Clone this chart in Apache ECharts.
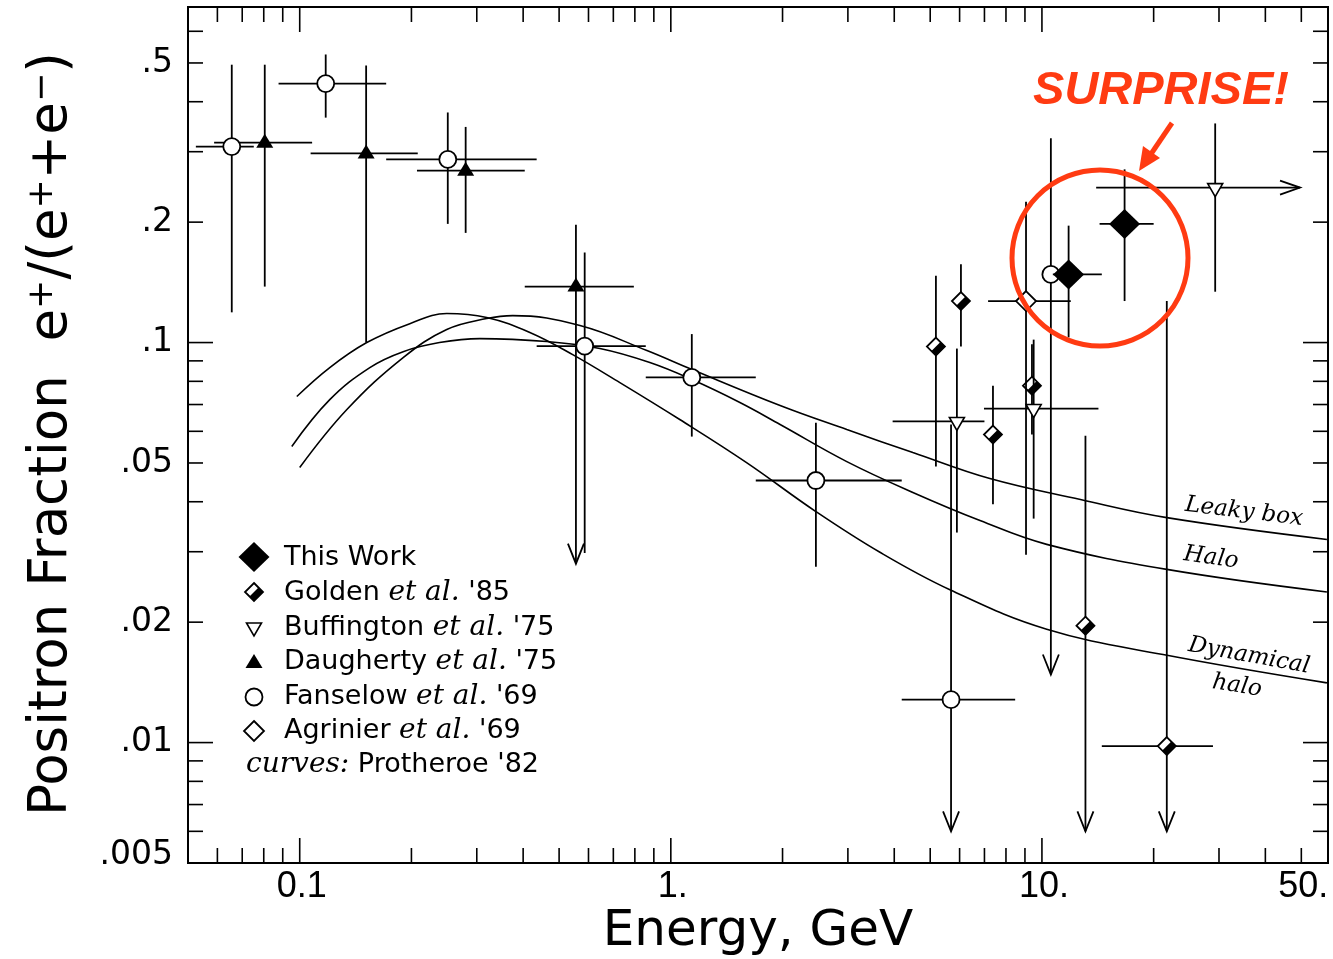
<!DOCTYPE html>
<html><head><meta charset="utf-8">
<script src="https://cdn.jsdelivr.net/npm/echarts@6/dist/echarts.min.js"></script>
<style>html,body{margin:0;padding:0;background:#fff}#c{width:1333px;height:959px}</style>
</head><body><div id="c"></div>
<script>
// ---------------- data ----------------
// rows: [E (GeV), fraction, E low, E high, fraction low, fraction high, limit]
// limit: 0 = none, 1 = downward arrow at fraction low, 2 = rightward arrow at E high
const thisWork = [
  [11.8, 0.148, 10.7, 14.5, 0.103, 0.196, 0],
  [16.7, 0.198, 14.3, 20.0, 0.127, 0.271, 0]
];
const golden85 = [
  [5.18, 0.0977, null, null, 0.049, 0.147, 0],
  [6.05, 0.127, null, null, 0.0977, 0.157, 0],
  [7.38, 0.0589, null, null, 0.0394, 0.078, 0],
  [9.4, 0.078, null, null, 0.0589, 0.099, 0],
  [13.1, 0.0196, null, null, 0.006, 0.0585, 1],
  [21.7, 0.0098, 14.5, 28.9, 0.006, 0.127, 1]
];
const buffington75 = [
  [5.9, 0.0635, 3.96, 7.0, 0.0335, 0.0966, 0],
  [9.5, 0.0684, 6.98, 14.2, 0.0363, 0.1017, 0],
  [29.3, 0.244, 14.0, 49.6, 0.134, 0.353, 2]
];
const daugherty75 = [
  [0.0805, 0.316, 0.0588, 0.108, 0.138, 0.495, 0],
  [0.151, 0.297, 0.107, 0.208, 0.100, 0.493, 0],
  [0.280, 0.269, 0.207, 0.404, 0.188, 0.346, 0],
  [0.555, 0.138, 0.404, 0.795, 0.028, 0.197, 1]
];
const fanselow69 = [
  [0.0656, 0.309, 0.0525, 0.0752, 0.119, 0.495, 0],
  [0.1175, 0.444, 0.0877, 0.171, 0.365, 0.525, 0],
  [0.2506, 0.287, 0.171, 0.435, 0.198, 0.376, 0],
  [0.586, 0.098, 0.435, 0.856, 0.0298, 0.168, 0],
  [1.139, 0.0818, 0.856, 1.694, 0.0582, 0.105, 0],
  [2.46, 0.0452, 1.694, 4.19, 0.0275, 0.063, 0],
  [5.69, 0.0128, 4.19, 8.47, 0.006, 0.0624, 1],
  [10.57, 0.148, null, null, 0.0148, 0.324, 1]
];
const agrinier69 = [
  [9.06, 0.127, 7.16, 11.96, 0.0295, 0.225, 0]
];
// model curves (Protheroe '82)
const leakyBoxE = [0.1, 0.134, 0.19, 0.249, 0.319, 0.375, 0.569, 0.862, 1.14, 1.97, 2.98, 4.49, 7.24, 12.7, 21.7, 58.6];
const leakyBoxF = [0.0487, 0.068, 0.0917, 0.1078, 0.1148, 0.1168, 0.1103, 0.0955, 0.0856, 0.0696, 0.0606, 0.0531, 0.0457, 0.0405, 0.0365, 0.0322];
const haloE = [0.0952, 0.1205, 0.1545, 0.19, 0.238, 0.306, 0.463, 0.644, 0.878, 1.14, 1.535, 1.97, 2.98, 4.49, 6.81, 10.3, 21.7, 58.6];
const haloF = [0.055, 0.072, 0.0866, 0.0949, 0.1, 0.1023, 0.1006, 0.0966, 0.0891, 0.0808, 0.0708, 0.0624, 0.0504, 0.0422, 0.0359, 0.0313, 0.0271, 0.0238];
const dynHaloE = [0.0982, 0.1205, 0.1516, 0.198, 0.249, 0.319, 0.417, 0.544, 0.729, 1.057, 1.60, 2.46, 3.66, 5.65, 10.3, 21.2, 58.6];
const dynHaloF = [0.0733, 0.0866, 0.1, 0.1115, 0.1182, 0.1155, 0.106, 0.0933, 0.0794, 0.0642, 0.0501, 0.0378, 0.0299, 0.0241, 0.0192, 0.0166, 0.0141];
// axes
const xMin = 0.05, xMax = 59, yMin = 0.005, yMax = 0.69;
const xMajorTicks = [0.1, 1, 10];
const xMinorTicks = [0.06, 0.07, 0.08, 0.09, 0.2, 0.3, 0.4, 0.5, 0.6, 0.7, 0.8, 0.9, 2, 3, 4, 5, 6, 7, 8, 9, 20, 30, 40, 50];
const yMajorTicks = [0.01, 0.1];
const yMinorTicks = [0.006, 0.007, 0.008, 0.009, 0.02, 0.03, 0.04, 0.05, 0.06, 0.07, 0.08, 0.09, 0.2, 0.3, 0.4, 0.5, 0.6];
const xTickVals = [0.1, 1, 10, 50];
const xTickLabels = ['0.1', '1.', '10.', '50.'];
const yTickVals = [0.5, 0.2, 0.1, 0.05, 0.02, 0.01, 0.005];
const yTickLabels = ['.5', '.2', '.1', '.05', '.02', '.01', '.005'];

// ---------------- drawing helpers ----------------
const K = '#000';
const RED = '#ff3b12';
function ln(x1, y1, x2, y2, w) { return {type: 'line', shape: {x1, y1, x2, y2}, style: {stroke: K, lineWidth: w || 1.8}}; }
function poly(points, fill, stroke, w) { return {type: 'polygon', shape: {points}, style: {fill: fill, stroke: stroke || null, lineWidth: w || 0}}; }
function diamondFilled(cx, cy) { return [poly([[cx, cy - 15], [cx + 15.5, cy], [cx, cy + 15], [cx - 15.5, cy]], K)]; }
function diamondHalf(cx, cy) {
  const s = 9;
  return [poly([[cx, cy - s], [cx + s, cy], [cx, cy + s], [cx - s, cy]], '#fff', K, 1.8),
          poly([[cx + s / 2, cy - s / 2], [cx + s, cy], [cx, cy + s], [cx - s / 2, cy + s / 2]], K)];
}
function diamondOpen(cx, cy) { const s = 10; return [poly([[cx, cy - s], [cx + s, cy], [cx, cy + s], [cx - s, cy]], '#fff', K, 1.8)]; }
function triDownOpen(cx, cy) { return [poly([[cx - 7.5, cy - 4], [cx + 7.5, cy - 4], [cx, cy + 9]], '#fff', K, 1.6)]; }
function triUpFilled(cx, cy) { return [poly([[cx, cy - 9], [cx + 8.5, cy + 5], [cx - 8.5, cy + 5]], K)]; }
function circOpen(cx, cy) { return [{type: 'circle', shape: {cx, cy, r: 8.5}, style: {fill: '#fff', stroke: K, lineWidth: 1.8}}]; }

function errSeries(name, rows, marker, z) {
  return {
    type: 'custom', name: name, coordinateSystem: 'cartesian2d', z: z,
    data: rows.map(r => [r[0], r[1]]),
    encode: {x: 0, y: 1},
    renderItem: function (params, api) {
      const r = rows[params.dataIndex];
      const c = api.coord([r[0], r[1]]);
      const kids = [];
      if (r[2] != null) {
        const a = api.coord([r[2], r[1]]), b = api.coord([r[3], r[1]]);
        kids.push(ln(a[0], c[1], b[0], c[1]));
        if (r[6] === 2) kids.push({type: 'polyline', shape: {points: [[b[0] - 20, c[1] - 7], [b[0], c[1]], [b[0] - 20, c[1] + 7]]}, style: {stroke: K, fill: null, lineWidth: 1.8}});
      }
      if (r[4] != null) {
        const a = api.coord([r[0], r[4]]), b = api.coord([r[0], r[5]]);
        kids.push(ln(c[0], a[1], c[0], b[1]));
        if (r[6] === 1) kids.push({type: 'polyline', shape: {points: [[c[0] - 8, a[1] - 20], [c[0], a[1]], [c[0] + 8, a[1] - 20]]}, style: {stroke: K, fill: null, lineWidth: 1.8}});
      }
      marker(c[0], c[1]).forEach(m => kids.push(m));
      return {type: 'group', children: kids};
    }
  };
}

function curve(name, xs, ys) {
  return {
    type: 'line', name: name, data: xs.map((x, i) => [x, ys[i]]), smooth: 0.4,
    showSymbol: false, symbol: 'none', z: 2, silent: true,
    lineStyle: {color: K, width: 1.6}
  };
}

const frameSeries = {
  type: 'custom', name: 'frame', coordinateSystem: 'cartesian2d', z: 1, silent: true,
  data: [[1, 0.1]],
  renderItem: function (params, api) {
    const cs = params.coordSys;
    const top = cs.y, bot = cs.y + cs.height, lft = cs.x, rgt = cs.x + cs.width;
    const kids = [];
    const xt = (v, L) => { const p = api.coord([v, yMin]); kids.push(ln(p[0], bot, p[0], bot - L, 1.6), ln(p[0], top, p[0], top + L, 1.6)); };
    const yt = (v, L) => { const p = api.coord([xMin, v]); kids.push(ln(lft, p[1], lft + L, p[1], 1.6), ln(rgt, p[1], rgt - L, p[1], 1.6)); };
    xMinorTicks.forEach(v => xt(v, 15)); xMajorTicks.forEach(v => xt(v, 25));
    yMinorTicks.forEach(v => yt(v, 15)); yMajorTicks.forEach(v => yt(v, 25));
    xTickVals.forEach((v, i) => {
      const p = api.coord([v, yMin]);
      kids.push({type: 'text', style: {text: xTickLabels[i], x: p[0] + 2, y: bot + 24, align: 'center', verticalAlign: 'middle', fontSize: 36, fontFamily: 'Liberation Sans', fill: K}});
    });
    yTickVals.forEach((v, i) => {
      const p = api.coord([xMin, v]);
      const dy = (v === yMin) ? -8 : 0;
      kids.push({type: 'text', style: {text: yTickLabels[i], x: lft - 15, y: p[1] + dy, align: 'right', verticalAlign: 'middle', fontSize: 33, fontFamily: 'DejaVu Sans', fill: K}});
    });
    return {type: 'group', children: kids};
  }
};

// ---------------- legend & annotations (graphic) ----------------
const legendFont = {n: {fontSize: 27, fontFamily: 'DejaVu Sans', fill: K}, i: {fontSize: 28, fontFamily: 'DejaVu Serif', fontStyle: 'italic', fill: K}};
function legText(y, txt, x) { return {type: 'text', x: x || 284, y: y, style: {text: txt, rich: legendFont, align: 'left', verticalAlign: 'middle'}}; }
function shapeGroup(kids) { return {type: 'group', children: kids}; }
const LX = 254;
const curveLabelStyle = (t) => ({text: t, fontSize: 23, fontFamily: 'DejaVu Serif', fontStyle: 'italic', fill: K, align: 'center', verticalAlign: 'middle'});
const graphics = [
  // legend
  shapeGroup(diamondFilled(LX, 557)),
  legText(558, '{n|This Work}'),
  shapeGroup(diamondHalf(LX, 592)),
  legText(593, "{n|Golden }{i|et al.}{n| '85}"),
  shapeGroup(triDownOpen(LX, 627)),
  legText(628, "{n|Buffington }{i|et al.}{n| '75}"),
  shapeGroup(triUpFilled(LX, 663)),
  legText(662, "{n|Daugherty }{i|et al.}{n| '75}"),
  shapeGroup(circOpen(LX, 697)),
  legText(697, "{n|Fanselow }{i|et al.}{n| '69}"),
  shapeGroup(diamondOpen(LX, 731)),
  legText(731, "{n|Agrinier }{i|et al.}{n| '69}"),
  legText(765, "{i|curves:}{n| Protheroe '82}", 246),
  // curve labels
  {type: 'text', x: 1244, y: 512, rotation: -0.12, style: curveLabelStyle('Leaky box')},
  {type: 'text', x: 1211, y: 558, rotation: -0.14, style: curveLabelStyle('Halo')},
  {type: 'text', x: 1249, y: 656, rotation: -0.18, style: curveLabelStyle('Dynamical')},
  {type: 'text', x: 1237, y: 686, rotation: -0.16, style: curveLabelStyle('halo')},
  // axis titles
  {type: 'text', x: 52, y: 434, rotation: Math.PI / 2, style: {
    text: '{n|Positron Fraction  e}{s|+}{n|/(e}{s|+}{n|+e}{s|−}{n|)}',
    rich: {n: {fontSize: 53, fontFamily: 'DejaVu Sans', fill: K}, s: {fontSize: 35, fontFamily: 'DejaVu Sans', fill: K, verticalAlign: 'top'}},
    align: 'center', verticalAlign: 'middle'}},
  {type: 'text', x: 758, y: 932, style: {text: 'Energy, GeV', fontSize: 50, fontFamily: 'DejaVu Sans', fill: K, align: 'center', verticalAlign: 'middle'}},
  // SURPRISE annotation
  {type: 'text', x: 1161, y: 91, style: {text: 'SURPRISE!', fontSize: 47, fontWeight: 'bold', fontStyle: 'italic', fontFamily: 'Liberation Sans', fill: RED, align: 'center', verticalAlign: 'middle'}},
  {type: 'circle', shape: {cx: 1100, cy: 258, r: 88}, style: {fill: null, stroke: RED, lineWidth: 5}, z: 100},
  {type: 'line', shape: {x1: 1172, y1: 123, x2: 1151, y2: 154}, style: {stroke: RED, lineWidth: 5}, z: 100},
  {type: 'polygon', shape: {points: [[1139, 171], [1143, 146], [1160, 158]]}, style: {fill: RED}, z: 100}
];

// ---------------- chart ----------------
const chart = echarts.init(document.getElementById('c'), null, {renderer: 'canvas'});
chart.setOption({
  animation: false,
  backgroundColor: '#fff',
  grid: {left: 188, right: 5, top: 7, bottom: 96, show: true, borderColor: K, borderWidth: 2, backgroundColor: 'transparent'},
  xAxis: {type: 'log', logBase: 10, min: xMin, max: xMax, axisLine: {show: false}, axisTick: {show: false}, axisLabel: {show: false}, splitLine: {show: false}},
  yAxis: {type: 'log', logBase: 10, min: yMin, max: yMax, axisLine: {show: false}, axisTick: {show: false}, axisLabel: {show: false}, splitLine: {show: false}},
  series: [
    frameSeries,
    curve('Leaky box', leakyBoxE, leakyBoxF),
    curve('Halo', haloE, haloF),
    curve('Dynamical halo', dynHaloE, dynHaloF),
    errSeries("Golden et al. '85", golden85, diamondHalf, 4),
    errSeries("Buffington et al. '75", buffington75, triDownOpen, 4),
    errSeries("Daugherty et al. '75", daugherty75, triUpFilled, 4),
    errSeries("Fanselow et al. '69", fanselow69, circOpen, 4),
    errSeries("Agrinier et al. '69", agrinier69, diamondOpen, 4),
    errSeries('This Work', thisWork, diamondFilled, 6)
  ],
  graphic: graphics
});
</script></body></html>
